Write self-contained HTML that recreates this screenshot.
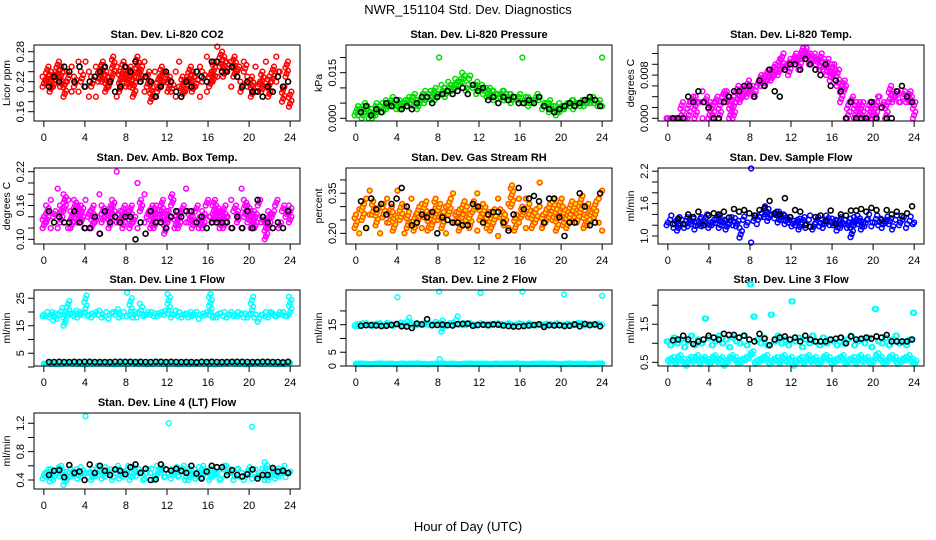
<!DOCTYPE html>
<html><head><meta charset="utf-8"><style>
body{margin:0;background:#fff;}
svg{display:block;font-family:"Liberation Sans",Arial,sans-serif;}
</style></head><body>
<svg id="chart" width="936" height="540" viewBox="0 0 936 540" xmlns="http://www.w3.org/2000/svg">
<rect width="936" height="540" fill="#fff"/>
<text x="468" y="14" text-anchor="middle" font-size="13">NWR_151104 Std. Dev. Diagnostics</text>
<text x="468" y="531" text-anchor="middle" font-size="13">Hour of Day (UTC)</text>
</svg>
<script>
const xTicks=[0,4,8,12,16,20,24];
const co2A=[0.23,0.22,0.24,0.21,0.23,0.25,0.22,0.24,0.20,0.23,0.26,0.22,0.21,0.24,0.23,0.19,0.25,0.22,0.24,0.21,0.23,0.25,0.20,0.22,0.24,0.21,0.23,0.27,0.22,0.20,0.24,0.22,0.19,0.23,0.21,0.24,0.20,0.22,0.19,0.21,0.23,0.20,0.22,0.24,0.21,0.25,0.22,0.20,0.24,0.26,0.23,0.25,0.27,0.24,0.26,0.23,0.25,0.22,0.24,0.21,0.23,0.20,0.22,0.24,0.21,0.23,0.25,0.22,0.24,0.21,0.23,0.20];
const co2B=[0.21,0.25,0.20,0.24,0.26,0.21,0.19,0.22,0.25,0.21,0.20,0.24,0.26,0.19,0.21,0.25,0.22,0.26,0.20,0.23,0.27,0.19,0.24,0.26,0.21,0.25,0.19,0.23,0.25,0.26,0.21,0.18,0.24,0.20,0.25,0.22,0.23,0.20,0.24,0.26,0.19,0.23,0.25,0.20,0.23,0.19,0.24,0.27,0.21,0.22,0.29,0.28,0.23,0.26,0.21,0.27,0.24,0.20,0.26,0.23,0.19,0.25,0.21,0.20,0.26,0.19,0.22,0.27,0.24,0.18,0.26,0.17];
const co2K=[0.21,0.23,0.22,0.25,0.24,0.22,0.25,0.21,0.22,0.23,0.24,0.25,0.22,0.20,0.21,0.25,0.24,0.26,0.22,0.23,0.22,0.19,0.21,0.24,0.22,0.20,0.19,0.22,0.21,0.24,0.23,0.22,0.26,0.26,0.24,0.24,0.25,0.23,0.21,0.22,0.20,0.20,0.19,0.21,0.20,0.23,0.21,0.22];
const prsA=[0.003,0.001,0.004,0.002,0.000,0.003,0.001,0.004,0.005,0.003,0.006,0.004,0.005,0.003,0.006,0.005,0.007,0.004,0.006,0.008,0.005,0.007,0.009,0.006,0.020,0.008,0.010,0.009,0.011,0.010,0.013,0.012,0.011,0.014,0.010,0.012,0.009,0.008,0.010,0.007,0.009,0.008,0.007,0.009,0.006,0.008,0.007,0.006,0.020,0.006,0.007,0.005,0.006,0.007,0.005,0.004,0.006,0.003,0.004,0.002,0.003,0.005,0.004,0.006,0.005,0.004,0.006,0.007,0.005,0.006,0.004,0.020];
const prsB=[0.001,0.004,0.000,0.005,0.002,0.000,0.005,0.003,0.002,0.006,0.004,0.007,0.003,0.006,0.004,0.007,0.005,0.008,0.003,0.006,0.009,0.008,0.006,0.010,0.008,0.011,0.007,0.012,0.009,0.013,0.011,0.015,0.009,0.013,0.011,0.008,0.011,0.009,0.007,0.010,0.006,0.008,0.009,0.006,0.008,0.005,0.007,0.008,0.005,0.007,0.004,0.006,0.008,0.006,0.003,0.005,0.002,0.004,0.001,0.005,0.003,0.004,0.006,0.003,0.005,0.006,0.004,0.005,0.007,0.005,0.006,0.004];
const prsK=[0.002,0.004,0.001,0.003,0.002,0.005,0.004,0.006,0.003,0.004,0.003,0.005,0.007,0.007,0.005,0.007,0.008,0.009,0.008,0.009,0.010,0.008,0.011,0.009,0.010,0.006,0.007,0.005,0.007,0.006,0.007,0.005,0.005,0.006,0.005,0.007,0.004,0.003,0.002,0.003,0.004,0.005,0.004,0.005,0.006,0.007,0.006,0.004];
const tmpA=[0,0,0,0,0,0,0.003,0.003,0.004,0.003,0.005,0.003,0,0.003,0.004,0.003,0.005,0.003,0,0.004,0.003,0.005,0.006,0.004,0.006,0.005,0.007,0.006,0.008,0.007,0.009,0.008,0.011,0.009,0.010,0.008,0.011,0.010,0.012,0.011,0.013,0.012,0.011,0.010,0.012,0.009,0.011,0.010,0.008,0.009,0.006,0.005,0.003,0.004,0.003,0,0.003,0,0,0.003,0,0.004,0.003,0,0.003,0.005,0.004,0.003,0.005,0.004,0.003,0];
const tmpB=[0,0,0,0,0.003,0,0,0.004,0,0.003,0,0.004,0.003,0,0.003,0,0.004,0.005,0.003,0,0.006,0.003,0.004,0.007,0.005,0.004,0.006,0.008,0.006,0.009,0.007,0.010,0.008,0.012,0.009,0.011,0.010,0.012,0.009,0.013,0.011,0.010,0.012,0.011,0.009,0.011,0.008,0.007,0.010,0.006,0.003,0.007,0,0.003,0,0.003,0,0,0.003,0,0.003,0.004,0.002,0.003,0.006,0.003,0.005,0.003,0.004,0.003,0.005,0.003];
const tmpK=[0,0,0,0.004,0.003,0.005,0.003,0.002,0,0,0.003,0.004,0.005,0.005,0.006,0.006,0.004,0.007,0.006,0.009,0.005,0.004,0.009,0.010,0.010,0.009,0.011,0.010,0.009,0.008,0.010,0.006,0.007,0.005,0,0.003,0,0,0,0.003,0,0.002,0,0,0.005,0.006,0.004,0.003];
const ambA=[0.14,0.16,0.12,0.15,0.19,0.13,0.15,0.17,0.12,0.14,0.16,0.13,0.17,0.15,0.12,0.14,0.18,0.13,0.15,0.16,0.14,0.22,0.13,0.16,0.15,0.12,0.14,0.20,0.17,0.13,0.15,0.16,0.12,0.14,0.17,0.15,0.13,0.16,0.14,0.12,0.15,0.19,0.13,0.14,0.16,0.12,0.15,0.17,0.14,0.13,0.16,0.15,0.12,0.14,0.17,0.15,0.13,0.19,0.14,0.16,0.12,0.15,0.17,0.13,0.10,0.15,0.14,0.16,0.13,0.15,0.14,0.16];
const ambB=[0.12,0.13,0.17,0.14,0.12,0.16,0.18,0.12,0.15,0.17,0.13,0.16,0.12,0.14,0.16,0.13,0.11,0.16,0.14,0.12,0.17,0.13,0.15,0.12,0.14,0.16,0.13,0.12,0.15,0.18,0.14,0.12,0.16,0.15,0.13,0.11,0.15,0.18,0.12,0.15,0.16,0.13,0.15,0.12,0.15,0.14,0.12,0.16,0.14,0.17,0.13,0.12,0.16,0.14,0.12,0.16,0.15,0.12,0.17,0.13,0.15,0.12,0.16,0.14,0.13,0.12,0.15,0.17,0.12,0.16,0.15,0.13];
const ambK=[0.15,0.13,0.14,0.13,0.13,0.15,0.13,0.12,0.12,0.14,0.11,0.15,0.13,0.14,0.13,0.14,0.14,0.10,0.13,0.11,0.15,0.13,0.13,0.12,0.14,0.15,0.14,0.15,0.15,0.13,0.14,0.12,0.13,0.13,0.13,0.13,0.12,0.14,0.12,0.15,0.12,0.17,0.14,0.13,0.12,0.13,0.12,0.15];
const rhA=[0.22,0.29,0.25,0.33,0.36,0.27,0.23,0.30,0.26,0.33,0.24,0.28,0.36,0.25,0.30,0.22,0.33,0.27,0.24,0.31,0.26,0.21,0.28,0.33,0.25,0.22,0.30,0.27,0.35,0.24,0.29,0.32,0.25,0.22,0.28,0.35,0.30,0.24,0.27,0.21,0.29,0.33,0.26,0.23,0.31,0.38,0.27,0.24,0.30,0.33,0.26,0.22,0.29,0.39,0.27,0.24,0.31,0.25,0.29,0.33,0.23,0.28,0.32,0.25,0.30,0.34,0.27,0.23,0.29,0.26,0.33,0.36];
const rhB=[0.27,0.20,0.31,0.22,0.27,0.32,0.29,0.20,0.31,0.24,0.30,0.21,0.26,0.31,0.20,0.28,0.24,0.21,0.30,0.22,0.32,0.27,0.22,0.25,0.31,0.28,0.20,0.33,0.24,0.28,0.21,0.26,0.30,0.27,0.32,0.21,0.25,0.31,0.22,0.28,0.24,0.19,0.29,0.27,0.22,0.30,0.21,0.33,0.26,0.22,0.31,0.28,0.24,0.30,0.22,0.29,0.26,0.33,0.21,0.27,0.30,0.22,0.26,0.31,0.24,0.28,0.22,0.31,0.27,0.32,0.24,0.21];
const rhK=[0.32,0.22,0.33,0.29,0.31,0.27,0.31,0.33,0.37,0.30,0.23,0.24,0.27,0.26,0.28,0.20,0.26,0.25,0.24,0.24,0.23,0.23,0.31,0.30,0.24,0.27,0.28,0.28,0.24,0.21,0.27,0.37,0.29,0.33,0.34,0.32,0.24,0.33,0.33,0.26,0.19,0.24,0.24,0.35,0.30,0.23,0.24,0.35];
const sfA=[1.25,1.30,1.15,1.35,1.22,1.28,1.18,1.32,1.25,1.20,1.35,1.27,1.15,1.30,1.24,1.38,1.20,1.28,1.22,1.33,1.18,0.97,1.30,1.25,2.25,1.38,1.30,1.42,1.35,1.50,1.40,1.33,1.45,1.30,1.38,1.25,1.28,1.20,1.32,1.25,1.15,1.30,1.22,1.35,1.18,1.28,1.24,1.32,1.20,1.28,1.15,1.30,1.25,0.98,1.35,1.22,1.28,1.18,1.32,1.25,1.38,1.20,1.28,1.24,1.33,1.18,1.30,1.25,1.35,1.22,1.28,1.25];
const sfB=[1.20,1.38,1.28,1.10,1.30,1.15,1.35,1.22,1.12,1.32,1.18,1.40,1.25,1.20,1.36,1.15,1.30,1.12,1.35,1.20,1.28,1.15,1.36,1.20,0.88,1.28,1.22,1.35,1.55,1.28,1.38,1.45,1.25,1.40,1.22,1.35,1.18,1.30,1.12,1.35,1.22,1.38,1.12,1.25,1.30,1.15,1.38,1.20,1.30,1.10,1.35,1.22,1.15,1.32,1.20,1.38,1.12,1.30,1.40,1.18,1.25,1.32,1.15,1.36,1.22,1.12,1.38,1.20,1.30,1.15,1.36,1.22];
const sfK=[1.22,1.32,1.22,1.40,1.35,1.45,1.20,1.38,1.42,1.40,1.45,1.34,1.50,1.45,1.48,1.42,1.38,1.48,1.52,1.65,1.42,1.40,1.70,1.35,1.48,1.45,1.20,1.17,1.35,1.38,1.28,1.47,1.22,1.40,1.38,1.47,1.47,1.50,1.45,1.52,1.48,1.30,1.48,1.40,1.45,1.37,1.42,1.55];
const l1A=[19,18.5,20,17,19,21.5,15,24,19,18.5,20,19,26,18.5,19.5,20,19,18,20,19,19.5,21,19,18.5,27,25,18,19.5,23,19,20,19,18.5,19.5,20,19,26.5,19,20.5,18.5,19,19.5,18,19,20,19,18.5,19,26.5,18,19,19.5,18.5,19,20,19,18.5,19,19.5,18,25.5,19,17.5,19,18.5,20,19.5,18.5,19,20,18.5,25.5];
const l1B=[18.5,20,18,19.5,17.5,19,20,18.5,19.5,20.5,18,19.5,20,19,18,19,20.5,19,18.5,17.5,20,19,18,20,18.5,19,20,18,19.5,18.5,19,20,19.5,18.5,19,20.5,19.5,18,19,20,18,19,20,18.5,19,17.5,19.5,20,19,18.5,18,19.5,20,18,19,18.5,20,19.5,18,19,19.5,18,16.5,19,20,18,19.5,18.5,20,19,18.5,19];
const l1C=[1.2,1.3,1.2,1.1,1.2,1.3,1.2,1.2,1.1,1.3,1.2,1.2,1.3,1.2,1.1,1.2,1.2,1.3,1.2,1.2,1.1,1.2,1.3,1.2,1.2,1.2,1.1,1.3,1.2,1.2,1.2,1.3,1.2,1.1,1.2,1.2,1.3,1.2,1.2,1.1,1.2,1.3,1.2,1.2,1.2,1.1,1.2,1.3];
const l1K=[1.8,1.8,1.9,1.8,1.8,1.9,1.8,1.9,1.9,1.8,1.8,1.8,1.8,1.9,1.9,1.9,1.9,1.8,1.9,1.8,1.8,1.9,1.9,1.8,1.9,1.8,1.8,1.8,1.8,1.7,1.9,1.8,1.9,1.8,1.8,1.8,1.9,1.9,1.9,1.8,1.8,1.8,1.9,1.9,1.8,1.8,1.7,1.9];
const l2A=[15,14.5,15.5,15,14.8,15.2,15,15.5,14.5,15,15.3,15,25,15,15.5,17.5,15,14.6,15.2,15,15.5,15,14.8,15.3,27,12.5,15,15.5,15,18,15.2,14.8,15,15.5,15,15.2,26.5,15,14.8,15.3,15,15.5,14.8,15,15.2,15,14.8,15.5,27,15,15.2,14.8,15,15.3,15,14.8,15.2,15,15.5,15,26,14.8,15,15.3,15,15.5,14.8,15,15.2,15,15.3,25.5];
const l2B=[14.6,15.3,14.8,15.5,15,14.6,15.4,15,14.8,15.6,15,14.6,15.3,15.8,14.8,15,15.6,15.2,14.8,15.4,15,15.6,15.2,16,15.5,16.5,14.8,15.2,15.8,15.3,15,15.6,14.8,15.3,15,14.7,15.5,15,15.3,14.8,15.4,15,15.2,14.8,15.5,15,14.6,15.3,15.2,14.8,15.5,15,14.7,15.2,14.9,15.4,14.8,15,15.3,14.7,15,15.4,15.1,14.8,15.6,15.2,14.7,15.3,15,14.8,15.4,15];
const l2C=[0.8,0.9,0.8,0.7,0.8,0.9,0.8,0.8,0.7,0.9,0.8,0.8,0.9,0.8,0.7,0.8,2.5,0.9,0.8,0.8,0.7,0.8,0.9,0.8,0.8,0.8,0.7,0.9,0.8,0.8,0.8,0.9,0.8,0.7,0.8,0.8,0.9,0.8,0.8,0.7,0.8,0.9,0.8,0.8,0.8,0.7,0.8,0.9];
const l2K=[14.6,14.8,14.8,14.7,14.5,14.6,14.9,15.2,14.4,14.3,13.8,15.4,15.1,17,14.8,14.9,15,14.8,14.7,15.2,15.3,15.4,14.6,14.9,15,14.8,15.1,15,14.7,14.5,14.3,14.3,14.5,14.7,14.9,15.1,14.2,14.8,14.7,14.8,14.5,14.6,15.1,14.4,15.3,14.8,15.1,14.4];
const l3A=[1.05,0.95,1.15,1.0,1.1,0.9,1.05,1.2,0.95,1.1,1.0,1.65,1.15,0.95,1.05,1.2,1.0,1.1,0.9,1.15,1.05,1.0,1.2,0.95,2.55,1.7,1.1,1.0,1.15,0.95,1.75,1.05,1.2,1.0,1.1,0.95,2.1,1.05,1.15,0.9,1.1,1.0,1.2,1.05,0.95,1.15,1.0,1.1,1.05,0.95,1.15,1.0,1.1,1.2,0.95,1.05,1.1,1.0,1.15,0.9,1.9,1.05,1.0,1.15,0.95,1.1,1.2,1.0,1.05,0.95,1.1,1.8];
const l3B=[0.55,0.6,0.5,0.65,0.55,0.45,0.6,0.55,0.65,0.5,0.6,0.55,0.5,0.65,0.55,0.6,0.45,0.55,0.65,0.6,0.5,0.55,0.6,0.65,0.75,0.5,0.55,0.6,0.65,0.5,0.55,0.6,0.5,0.65,0.55,0.6,0.45,0.55,0.6,0.5,0.65,0.55,0.6,0.5,0.55,0.65,0.6,0.5,0.55,0.6,0.65,0.5,0.55,0.6,0.5,0.65,0.55,0.6,0.5,0.55,0.7,0.6,0.5,0.55,0.65,0.6,0.5,0.55,0.6,0.65,0.55,0.5];
const l3K=[1.08,1.1,1.2,1.1,0.98,1.05,1.1,1.2,1.15,1.1,1.25,1.22,1.22,1.15,1.2,1.1,1.05,1.25,1.12,0.95,1.1,1.15,1.18,1.1,1.15,1.05,1.2,1.1,1.05,1.05,1.05,1.1,1.12,1.15,1.0,1.18,1.1,1.12,1.15,1.12,1.18,1.15,1.22,1.05,1.05,1.05,1.05,1.1];
const l4A=[0.5,0.45,0.55,0.4,0.5,0.6,0.33,0.5,0.45,0.55,0.5,0.45,1.3,0.5,0.55,0.45,0.6,0.5,0.45,0.55,0.4,0.5,0.55,0.45,0.6,0.5,0.45,0.55,0.5,0.4,0.55,0.5,0.45,0.6,0.5,0.45,1.2,0.55,0.5,0.45,0.6,0.5,0.4,0.55,0.5,0.45,0.6,0.5,0.55,0.45,0.5,0.4,0.55,0.6,0.5,0.45,0.55,0.5,0.4,0.5,1.15,0.55,0.45,0.5,0.65,0.4,0.55,0.5,0.45,0.6,0.5,0.5];
const l4B=[0.42,0.55,0.38,0.5,0.58,0.45,0.52,0.4,0.56,0.48,0.42,0.58,0.5,0.44,0.4,0.55,0.48,0.42,0.58,0.5,0.44,0.6,0.42,0.52,0.5,0.4,0.58,0.46,0.52,0.42,0.5,0.56,0.4,0.48,0.58,0.44,0.5,0.42,0.58,0.46,0.52,0.4,0.56,0.48,0.42,0.58,0.44,0.5,0.4,0.56,0.48,0.42,0.6,0.46,0.52,0.4,0.56,0.44,0.5,0.58,0.42,0.5,0.46,0.56,0.4,0.52,0.48,0.42,0.56,0.5,0.44,0.52];
const l4K=[0.47,0.53,0.54,0.44,0.61,0.5,0.52,0.4,0.62,0.5,0.6,0.53,0.47,0.55,0.53,0.48,0.58,0.62,0.5,0.56,0.4,0.41,0.62,0.55,0.53,0.56,0.53,0.5,0.6,0.49,0.42,0.52,0.6,0.58,0.58,0.47,0.54,0.47,0.45,0.48,0.55,0.42,0.47,0.47,0.57,0.52,0.53,0.5];

const NS='http://www.w3.org/2000/svg';
const svg=document.getElementById('chart');
function mk(tag,attrs,parent){const e=document.createElementNS(NS,tag);for(const k in attrs)e.setAttribute(k,attrs[k]);(parent||svg).appendChild(e);return e;}

const panels=[
 {key:'co2',title:'Stan. Dev. Li-820 CO2',ylab:'Licor ppm',col:0,row:0,dom:[0.1414,0.2934],ticks:[0.16,0.18,0.20,0.22,0.24,0.26,0.28],labs:{'0.16':'0.16','0.22':'0.22','0.28':'0.28'},color:'#ff0000',pair:[co2A,co2B],flat:[],black:co2K},
 {key:'pressure',title:'Stan. Dev. Li-820 Pressure',ylab:'kPa',col:1,row:0,dom:[-0.00089,0.02411],ticks:[0,0.005,0.010,0.015,0.020],labs:{'0':'0.000','0.015':'0.015'},color:'#00dd00',pair:[prsA,prsB],flat:[],black:prsK},
 {key:'temp',title:'Stan. Dev. Li-820 Temp.',ylab:'degrees C',col:2,row:0,dom:[-0.0005,0.01357],ticks:[0,0.002,0.004,0.006,0.008,0.010,0.012],labs:{'0':'0.000','0.008':'0.008'},color:'#ff00ff',pair:[tmpA,tmpB],flat:[],black:tmpK},
 {key:'ambbox',title:'Stan. Dev. Amb. Box Temp.',ylab:'degrees C',col:0,row:1,dom:[0.0917,0.2266],ticks:[0.10,0.12,0.14,0.16,0.18,0.20,0.22],labs:{'0.1':'0.10','0.16':'0.16','0.22':'0.22'},color:'#ff00ff',pair:[ambA,ambB],flat:[],black:ambK},
 {key:'rh',title:'Stan. Dev. Gas Stream RH',ylab:'percent',col:1,row:1,dom:[0.16,0.4446],ticks:[0.20,0.25,0.30,0.35,0.40],labs:{'0.2':'0.20','0.35':'0.35'},color:'#ff5500',fill:'#ffee00',pair:[rhA,rhB],flat:[],black:rhK},
 {key:'sampleflow',title:'Stan. Dev. Sample Flow',ylab:'ml/min',col:2,row:1,dom:[0.852,2.259],ticks:[1.0,1.2,1.4,1.6,1.8,2.0,2.2],labs:{'1':'1.0','1.6':'1.6','2.2':'2.2'},color:'#0000ff',pair:[sfA,sfB],flat:[],black:sfK},
 {key:'line1',title:'Stan. Dev. Line 1 Flow',ylab:'ml/min',col:0,row:2,dom:[0.36,28],ticks:[0,5,10,15,20,25],labs:{'5':'5','15':'15','25':'25'},color:'#00ffff',pair:[l1A,l1B],flat:[l1C],black:l1K},
 {key:'line2',title:'Stan. Dev. Line 2 Flow',ylab:'ml/min',col:1,row:2,dom:[0,27.6],ticks:[0,5,10,15,20],labs:{'0':'0','5':'5','15':'15'},color:'#00ffff',pair:[l2A,l2B],flat:[l2C],black:l2K},
 {key:'line3',title:'Stan. Dev. Line 3 Flow',ylab:'ml/min',col:2,row:2,dom:[0.403,2.40],ticks:[0.5,1.0,1.5,2.0],labs:{'0.5':'0.5','1.5':'1.5'},color:'#00ffff',pair:[l3A,l3A],flat:[],extra:[l3B],black:l3K},
 {key:'line4',title:'Stan. Dev. Line 4 (LT) Flow',ylab:'ml/min',col:0,row:3,dom:[0.273,1.345],ticks:[0.4,0.6,0.8,1.0,1.2],labs:{'0.4':'0.4','0.8':'0.8','1.2':'1.2'},color:'#00ffff',pair:[l4A,l4B],flat:[],black:l4K}
];

panels.forEach(p=>{
 const L=34+p.col*312, W=266, T=[45,168,290,413][p.row], H=76, B=T+H;
 const pad=W*0.04/1.08;
 const xS=t=>L+pad+(t/24)*(W-2*pad);
 const yS=v=>B-(v-p.dom[0])/(p.dom[1]-p.dom[0])*H;
 const span=p.dom[1]-p.dom[0];
 const g=mk('g',{});
 
 
 const tt=mk('text',{x:L+W/2,y:T-7,'text-anchor':'middle','font-size':'11','font-weight':'bold'},g);
 tt.textContent=p.title;
 
 
 const yl=mk('text',{x:0,y:0,'text-anchor':'middle','font-size':'10.5',transform:`translate(${L-24},${T+H/2}) rotate(-90)`},g);
 yl.textContent=p.ylab;
 
 
 const pts=mk('g',{fill:p.fill||'none',stroke:p.color,'stroke-width':'1.5'},g);
 
 
 function dot(t,v){
  if(!isFinite(v))return;
  const c=mk('circle',{cx:xS(t).toFixed(1),cy:yS(v).toFixed(1),r:'2.4'},pts);
  
  
 }
 const A=p.pair[0],Bv=p.pair[1],n=A.length,dt=24/(n-1);
 for(let i=0;i<n;i++){
  const t=i*dt,a=A[i],b=Bv[i];
  const lo=Math.min(a,b),hi=Math.max(a,b);
  const big=(hi-lo)>span*0.3;
  if(big){dot(t,a);dot(t,b);continue;}
  const steps=Math.max(1,Math.round((hi-lo)/span*76/3));
  for(let k=0;k<=steps;k++){
   const v=lo+(hi-lo)*k/steps;
   dot(t+((k%3)-1)*dt*0.35,v);
  }
 }
 (p.extra||[]).forEach(arr=>{
  const m=arr.length,d=24/(m-1);
  arr.forEach((v,i)=>{dot(i*d,v);dot(i*d+d*0.33,v-span*0.02);dot(i*d+d*0.66,v+span*0.02);});
 });
 p.flat.forEach(arr=>{
  const m=arr.length,d=24/(m-1);
  arr.forEach((v,i)=>{
   dot(i*d,v);
   if(i<m-1){const v2=arr[i+1];for(let k=1;k<4;k++)dot(i*d+k*d/4,Math.min(v,v2)+(Math.abs(v2-v)<span*0.03?(v2-v)*k/4:0));}
  });
 });
 const bk=mk('g',{fill:'none',stroke:'#000','stroke-width':'1.6'},g);
 
 
 p.black.forEach((v,i)=>{
  const t=0.5+i*23.3/(p.black.length-1);
  const c=mk('circle',{cx:xS(t).toFixed(1),cy:yS(v).toFixed(1),r:'2.5'},bk);
  
  
 });
 const bx=mk('rect',{x:L,y:T,width:W,height:H,fill:'none',stroke:'#000','stroke-width':'1'},g);
 
 
 const xa=mk('g',{stroke:'#000','stroke-width':'1'},g);
 
 
 mk('line',{x1:xS(0),x2:xS(24),y1:B,y2:B},xa);
 xTicks.forEach(t=>{
  mk('line',{x1:xS(t),x2:xS(t),y1:B,y2:B+6},xa);
  const tx=mk('text',{x:xS(t),y:B+20,'text-anchor':'middle','font-size':'11',stroke:'none',fill:'#000'},xa);
  tx.textContent=t;
  
  
 });
 const ya=mk('g',{stroke:'#000','stroke-width':'1'},g);
 
 
 mk('line',{x1:L,x2:L,y1:yS(p.ticks[0]),y2:yS(p.ticks[p.ticks.length-1])},ya);
 p.ticks.forEach(v=>{
  const y=yS(v);
  mk('line',{x1:L-6,x2:L,y1:y,y2:y},ya);
  const key=String(+v.toFixed(4));
  if(p.labs[key]!==undefined){
   const tx=mk('text',{x:0,y:0,'text-anchor':'middle','font-size':'11',stroke:'none',fill:'#000',transform:`translate(${L-10},${y}) rotate(-90)`},ya);
   tx.textContent=p.labs[key];
   
   
  }
 });
});
</script>
</body></html>
